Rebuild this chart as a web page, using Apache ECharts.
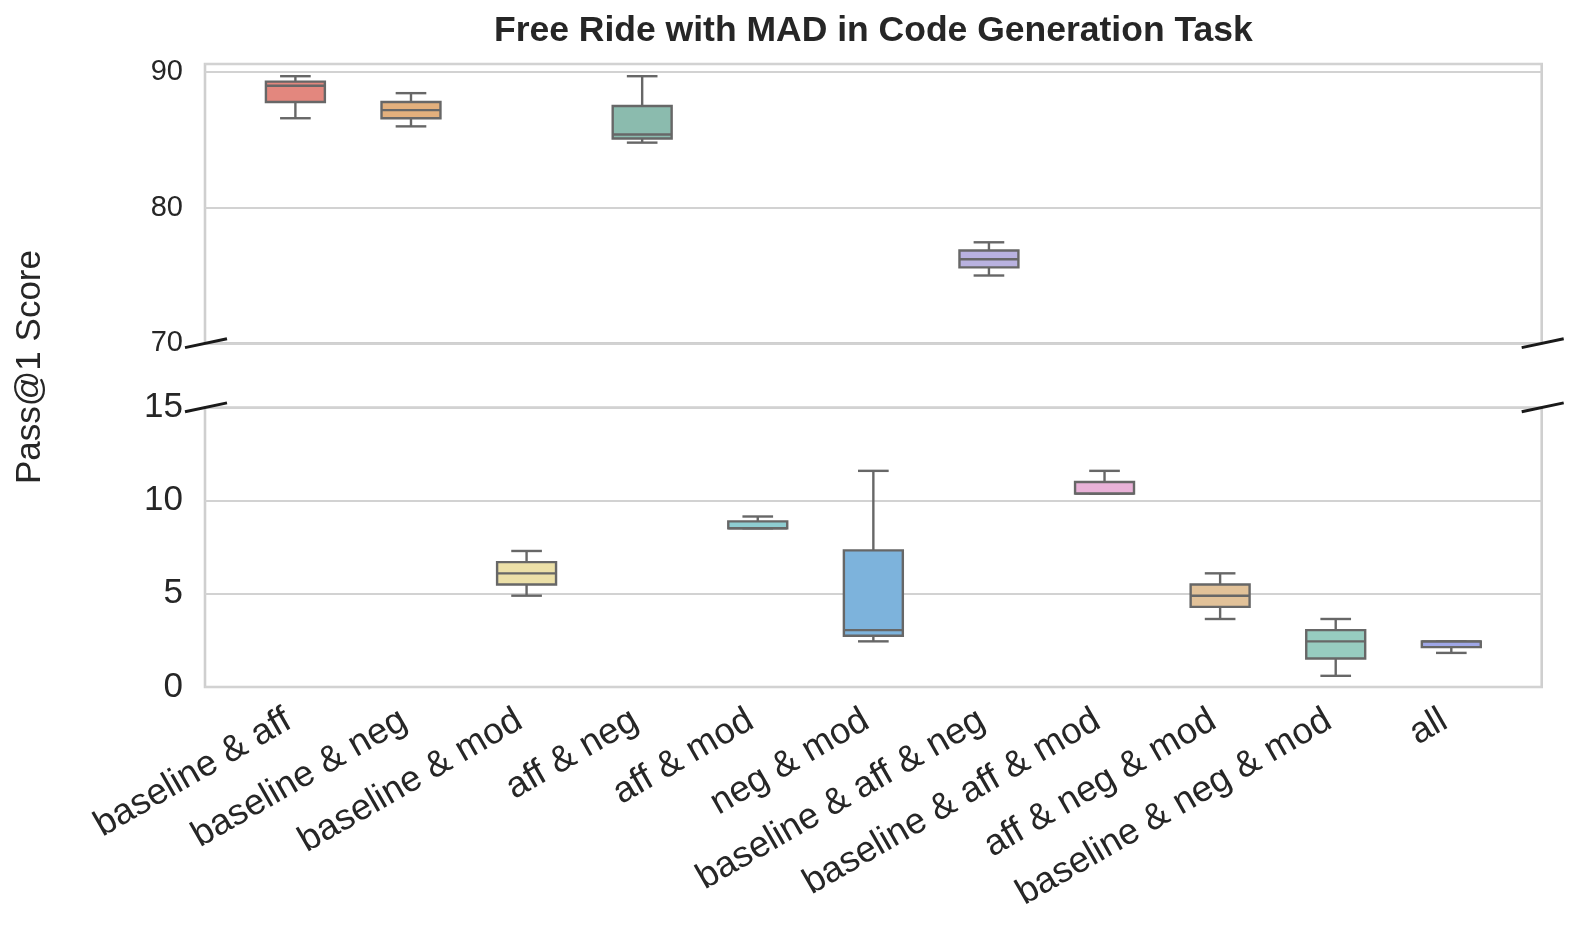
<!DOCTYPE html>
<html>
<head>
<meta charset="utf-8">
<script src="https://cdn.jsdelivr.net/npm/echarts@6/dist/echarts.min.js"></script>
<style>
html,body{margin:0;padding:0;background:#fff;}
#chart{width:1578px;height:930px;}
</style>
</head>
<body>
<div id="chart"></div>
<script>
// ---------------- data ----------------
const categories = ['baseline & aff','baseline & neg','baseline & mod','aff & neg','aff & mod','neg & mod',
  'baseline & aff & neg','baseline & aff & mod','aff & neg & mod','baseline & neg & mod','all'];
const whiskerLow  = [86.6, 86.0, 4.9, 84.8, 8.52, 2.45, 75.0, 10.38, 3.65, 0.6, 1.83];
const quartile1   = [87.8, 86.6, 5.5, 85.1, 8.52, 2.75, 75.6, 10.38, 4.3, 1.53, 2.14];
const medians     = [89.0, 87.2, 6.1, 85.4, 8.52, 3.05, 76.2, 10.38, 4.9, 2.45, 2.45];
const quartile3   = [89.3, 87.8, 6.7, 87.5, 8.89, 7.33, 76.85, 11.0, 5.5, 3.05, 2.45];
const whiskerHigh = [89.7, 88.45, 7.3, 89.7, 9.15, 11.6, 77.45, 11.6, 6.1, 3.65, 2.45];
const topTicks = [70, 80, 90];
const bottomTicks = [0, 5, 10, 15];
const boxColors = ['#e3877e','#e3b07d','#ece0a8','#8bbbae','#8ecdd1','#7db3dc','#b9b2e0','#e9b2d8','#e2c299','#97ccc0','#9fa7e7'];

// ---------------- layout ----------------
const FONT = "'Liberation Sans', Arial, Helvetica, sans-serif";
const L = 205, R = 1541.7;
const T1 = 64, B1 = 343.3, T2 = 407.5, B2 = 687;
const PAD = 32.6;
const TOP_MAX = 90.6;

const rows = categories.map((c, i) => [i, whiskerLow[i], quartile1[i], medians[i], quartile3[i], whiskerHigh[i]]);
const topRows = rows.filter(r => r[3] > 50);
const botRows = rows.filter(r => r[3] <= 50);

function renderBox(params, api) {
  const i = api.value(0);
  const lo = api.value(1), q1 = api.value(2), md = api.value(3), q3 = api.value(4), hi = api.value(5);
  const band = api.size([1, 0])[0];
  const bw = band * 0.51, cw = bw * 0.52;
  const x = api.coord([i, md])[0];
  const yLo = api.coord([i, lo])[1], yQ1 = api.coord([i, q1])[1], yMd = api.coord([i, md])[1];
  const yQ3 = api.coord([i, q3])[1], yHi = api.coord([i, hi])[1];
  const ls = { stroke: '#676767', lineWidth: 2.4, fill: null };
  return {
    type: 'group',
    children: [
      { type: 'line', shape: { x1: x, y1: yQ3, x2: x, y2: yHi }, style: ls },
      { type: 'line', shape: { x1: x, y1: yQ1, x2: x, y2: yLo }, style: ls },
      { type: 'line', shape: { x1: x - cw / 2, y1: yHi, x2: x + cw / 2, y2: yHi }, style: ls },
      { type: 'line', shape: { x1: x - cw / 2, y1: yLo, x2: x + cw / 2, y2: yLo }, style: ls },
      { type: 'rect', shape: { x: x - bw / 2, y: yQ3, width: bw, height: yQ1 - yQ3 },
        style: { fill: boxColors[i], stroke: '#676767', lineWidth: 2.4 } },
      { type: 'line', shape: { x1: x - bw / 2, y1: yMd, x2: x + bw / 2, y2: yMd }, style: ls }
    ]
  };
}

const gridStyle = { show: true, borderColor: '#cfcfcf', borderWidth: 2.6, backgroundColor: 'transparent', containLabel: false };
const chart = echarts.init(document.getElementById('chart'), null, { renderer: 'canvas' });

function breakMark(x, y) {
  return { type: 'line', shape: { x1: x - 20, y1: y + 4.3, x2: x + 22, y2: y - 4.6 },
           style: { stroke: '#1a1a1a', lineWidth: 3 }, z: 100 };
}

const option = {
  backgroundColor: '#ffffff',
  animation: false,
  grid: [
    Object.assign({ left: L, top: T1, width: R - L, height: B1 - T1 }, gridStyle),
    Object.assign({ left: L, top: T2, width: R - L, height: B2 - T2 }, gridStyle),
    { left: L + PAD, top: T1, width: R - L - 2 * PAD, height: B1 - T1, show: false },
    { left: L + PAD, top: T2, width: R - L - 2 * PAD, height: B2 - T2, show: false }
  ],
  xAxis: [
    { type: 'category', data: categories, gridIndex: 0, show: false },
    { type: 'category', data: categories, gridIndex: 1, show: false },
    { type: 'category', data: categories, gridIndex: 2, show: false },
    { type: 'category', data: categories, gridIndex: 3, boundaryGap: true,
      axisLine: { show: false }, axisTick: { show: false }, splitLine: { show: false },
      axisLabel: { rotate: 30, margin: 27, padding: [0, 8, 0, 0], fontSize: 36.5, color: '#262626', fontFamily: FONT, interval: 0 } }
  ],
  yAxis: [
    { type: 'value', gridIndex: 0, min: topTicks[0], max: TOP_MAX, interval: 10,
      axisLine: { show: false }, axisTick: { show: false },
      axisLabel: { fontSize: 29, color: '#262626', fontFamily: FONT, margin: 22,
        formatter: v => topTicks.includes(v) ? String(v) : '' },
      splitLine: { show: true, lineStyle: { color: '#d2d2d2', width: 2 } } },
    { type: 'value', gridIndex: 1, min: bottomTicks[0], max: bottomTicks[bottomTicks.length - 1], interval: 5,
      axisLine: { show: false }, axisTick: { show: false },
      axisLabel: { fontSize: 35, color: '#262626', fontFamily: FONT, margin: 22 },
      splitLine: { show: true, lineStyle: { color: '#d2d2d2', width: 2 } } },
    { type: 'value', gridIndex: 2, min: topTicks[0], max: TOP_MAX, show: false, splitLine: { show: false } },
    { type: 'value', gridIndex: 3, min: bottomTicks[0], max: bottomTicks[bottomTicks.length - 1], show: false, splitLine: { show: false } }
  ],
  series: [
    { type: 'custom', xAxisIndex: 2, yAxisIndex: 2, data: topRows, renderItem: renderBox,
      encode: { x: 0, y: [1, 2, 3, 4, 5] }, clip: false, z: 10 },
    { type: 'custom', xAxisIndex: 3, yAxisIndex: 3, data: botRows, renderItem: renderBox,
      encode: { x: 0, y: [1, 2, 3, 4, 5] }, clip: false, z: 10 }
  ],
  graphic: [
    { type: 'text', x: (L + R) / 2, y: 31, z: 100,
      style: { text: 'Free Ride with MAD in Code Generation Task', font: 'bold 35.5px ' + FONT,
               fill: '#262626', textAlign: 'center', textVerticalAlign: 'middle' } },
    { type: 'text', x: 30, y: 367, rotation: Math.PI / 2, z: 100,
      style: { text: 'Pass@1 Score', font: '35px ' + FONT, fill: '#262626',
               textAlign: 'center', textVerticalAlign: 'middle' } },
    breakMark(L, B1), breakMark(L, T2), breakMark(R, B1), breakMark(R, T2)
  ]
};
chart.setOption(option);
</script>
</body>
</html>
